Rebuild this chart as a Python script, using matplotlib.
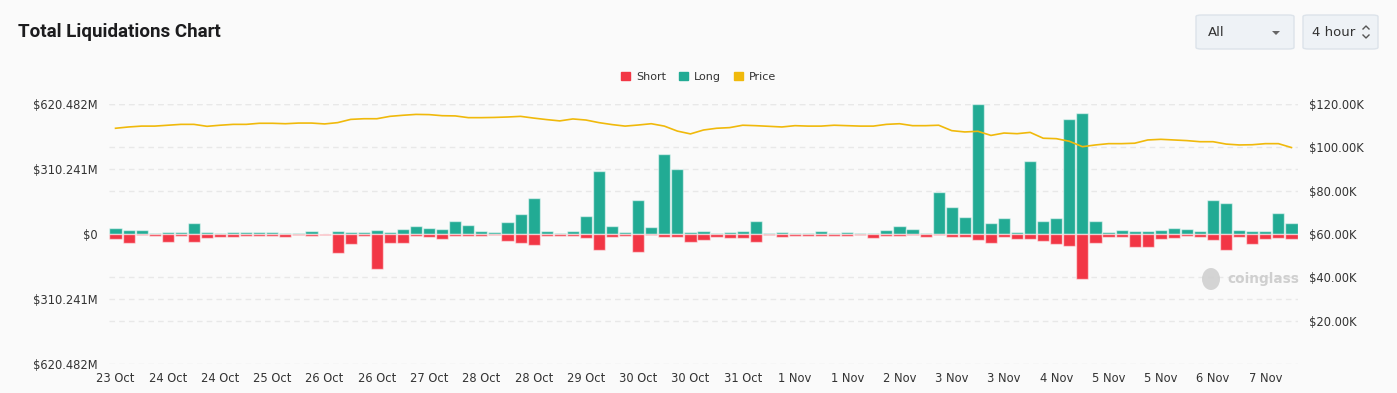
import matplotlib
matplotlib.use("Agg")
import matplotlib.pyplot as plt
import matplotlib.patches as mpatches
from matplotlib.lines import Line2D
import numpy as np

# ------------------------------------------------------------------ #
#  Datos (barras de 4 horas, en millones USD)
# ------------------------------------------------------------------ #
long_m = [27, 19, 17, 3, 10, 11, 51, 11, 3, 11, 8, 8, 10, 5, 3, 13, 2, 14, 10, 11,
          21, 10, 22, 37, 30, 24, 60, 45, 16, 8, 57, 97, 170, 13, 6, 13, 86, 302, 38, 8,
          164, 32, 383, 312, 10, 14, 6, 8, 16, 60, 5, 8, 6, 3, 16, 6, 11, 5, 3, 19,
          37, 22, 3, 202, 127, 81, 620.482, 54, 75, 11, 347, 62, 75, 551, 576, 64, 10, 21, 16, 14,
          21, 30, 25, 14, 161, 146, 21, 13, 13, 102, 54]
short_m = [25, 43, 6, 11, 38, 10, 37, 19, 13, 13, 10, 10, 10, 14, 5, 8, 6, 89, 46, 8,
           165, 45, 41, 8, 13, 25, 10, 10, 11, 6, 35, 45, 52, 10, 8, 11, 19, 75, 16, 10,
           84, 5, 13, 14, 37, 30, 14, 17, 21, 40, 6, 13, 11, 8, 11, 8, 8, 5, 17, 10,
           10, 6, 13, 6, 14, 14, 29, 41, 14, 22, 22, 32, 49, 57, 216, 45, 13, 14, 62, 60,
           22, 19, 11, 16, 27, 76, 14, 49, 24, 21, 22]
price_k = [108.8, 109.4, 109.8, 109.8, 110.2, 110.6, 110.6, 109.7, 110.2, 110.6,
           110.6, 111.1, 111.1, 110.9, 111.2, 111.2, 110.8, 111.4, 112.9, 113.2,
           113.2, 114.3, 114.8, 115.2, 115.1, 114.6, 114.5, 113.7, 113.7, 113.8,
           114.0, 114.3, 113.5, 112.8, 112.2, 113.1, 112.6, 111.4, 110.5, 109.8,
           110.3, 110.9, 109.8, 107.5, 106.2, 108.0, 108.8, 109.1, 110.2, 110.0,
           109.7, 109.4, 110.0, 109.8, 109.8, 110.2, 110.0, 109.8, 109.8, 110.6,
           110.9, 110.0, 110.0, 110.2, 107.7, 107.1, 107.4, 105.5, 106.6, 106.3,
           106.9, 104.2, 104.0, 102.8, 100.3, 101.1, 101.7, 101.7, 101.9, 103.4,
           103.7, 103.4, 103.1, 102.6, 102.6, 101.5, 101.1, 101.2, 101.7, 101.7, 99.9]
date_labels = ["23 Oct", "24 Oct", "24 Oct", "25 Oct", "26 Oct", "26 Oct", "27 Oct",
               "28 Oct", "28 Oct", "29 Oct", "30 Oct", "30 Oct", "31 Oct", "1 Nov",
               "1 Nov", "2 Nov", "3 Nov", "3 Nov", "4 Nov", "5 Nov", "5 Nov", "6 Nov",
               "7 Nov"]
left_ticks = [-620.482, -310.241, 0, 310.241, 620.482]
right_ticks = [20, 40, 60, 80, 100, 120]

# Paleta
BG = "#FAFAFA"
GREEN = "#22AB94"
RED = "#F23645"
GOLD = "#F0B90B"
INK = "#1C1C1E"
TICK = "#333333"
GRID = "#E8E8E8"

W, H = 1397, 393


def fx(px):
    return px / W


def fy(py):
    return 1 - py / H


fig = plt.figure(figsize=(W / 100, H / 100), dpi=100)
fig.patch.set_facecolor(BG)
rect = [fx(109), fy(364), fx(1298) - fx(109), fy(104) - fy(364)]
n = len(long_m)
x = np.arange(n)

# Capa 1: eje de precio (ticks derechos + su rejilla), al fondo
ax_r = fig.add_axes(rect)
ax_r.set_facecolor(BG)
ax_r.set_xlim(-0.5, n - 0.5)
ax_r.set_ylim(0, 120)
ax_r.yaxis.tick_right()
ax_r.set_yticks(right_ticks)
ax_r.set_yticklabels([f"${v:.2f}K" for v in right_ticks])
ax_r.set_xticks([])
for v in right_ticks:
    ax_r.axhline(v, color=GRID, lw=1, ls=(0, (4, 3)), zorder=0)
ax_r.tick_params(length=0, labelsize=8.3, colors=TICK, pad=8)

# Capa 2: barras de liquidaciones (eje izquierdo)
ax = fig.add_axes(rect)
ax.patch.set_visible(False)
edge = (1, 1, 1, 0.55)
ax.bar(x, long_m, width=0.93, color=GREEN, edgecolor=edge, linewidth=1, zorder=3)
ax.bar(x, [-s for s in short_m], width=0.93, color=RED, edgecolor=edge, linewidth=1, zorder=3)
ax.set_xlim(-0.5, n - 0.5)
ax.set_ylim(-620.482, 620.482)
ax.set_yticks(left_ticks)
ax.set_yticklabels(["$0" if v == 0 else f"${abs(v):.3f}M" for v in left_ticks])
ax.set_xticks(x[::4])
ax.set_xticklabels(date_labels)
for v in left_ticks:
    ax.axhline(v, color=GRID, lw=1, ls=(0, (4, 3)), zorder=0)
ax.tick_params(length=0, labelsize=8.3, colors=TICK, pad=8)
ax.tick_params(axis="x", pad=6)

# Capa 3: línea de precio, encima de todo
ax_p = fig.add_axes(rect)
ax_p.patch.set_visible(False)
ax_p.plot(x, price_k, color=GOLD, lw=1.2)
ax_p.set_xlim(-0.5, n - 0.5)
ax_p.set_ylim(0, 120)
ax_p.axis("off")

for a in (ax_r, ax):
    for s in a.spines.values():
        s.set_visible(False)

# Título
fig.text(fx(18), fy(32), "Total Liquidations Chart", fontsize=13.5, fontweight="bold",
         color=INK, va="center", ha="left", family="Roboto")

# Leyenda
handles = [mpatches.Patch(color=RED, label="Short"),
           mpatches.Patch(color=GREEN, label="Long"),
           mpatches.Patch(color=GOLD, label="Price")]
fig.legend(handles=handles, loc="center", bbox_to_anchor=(0.5, fy(77)), ncol=3,
           frameon=False, fontsize=8, handlelength=0.8, handleheight=0.8,
           handletextpad=0.5, columnspacing=1.2, labelcolor=TICK)

# Selectores (dropdowns)
for x0, x1 in [(1196, 1294), (1303, 1378)]:
    fig.add_artist(mpatches.FancyBboxPatch(
        (fx(x0), fy(49)), fx(x1) - fx(x0), fy(15) - fy(49),
        boxstyle="round,pad=0,rounding_size=0.004", transform=fig.transFigure,
        facecolor="#EEF2F6", edgecolor="#DCE3EA", linewidth=1))
fig.text(fx(1208), fy(32), "All", fontsize=9.5, color=TICK, va="center", ha="left")
fig.add_artist(mpatches.Polygon([(fx(1272), fy(31)), (fx(1280), fy(31)), (fx(1276), fy(35))],
                                closed=True, transform=fig.transFigure,
                                facecolor="#666666", edgecolor="none"))
fig.text(fx(1312), fy(32), "4 hour", fontsize=9.5, color=TICK, va="center", ha="left")
fig.add_artist(Line2D([fx(1363), fx(1366), fx(1369)], [fy(29), fy(26), fy(29)],
                      transform=fig.transFigure, color="#555555", lw=1))
fig.add_artist(Line2D([fx(1363), fx(1366), fx(1369)], [fy(35), fy(38), fy(35)],
                      transform=fig.transFigure, color="#555555", lw=1))

# Marca de agua
fig.add_artist(mpatches.Ellipse((fx(1211), fy(279)), fx(18), fy(0) - fy(22),
                                transform=fig.transFigure, facecolor="#D0D0D0",
                                edgecolor="none", alpha=0.9))
fig.text(fx(1227), fy(279), "coinglass", fontsize=9.8, fontweight="bold",
         color="#CFCFCF", va="center", ha="left")

fig.savefig("out.png", dpi=100, facecolor=fig.get_facecolor())
